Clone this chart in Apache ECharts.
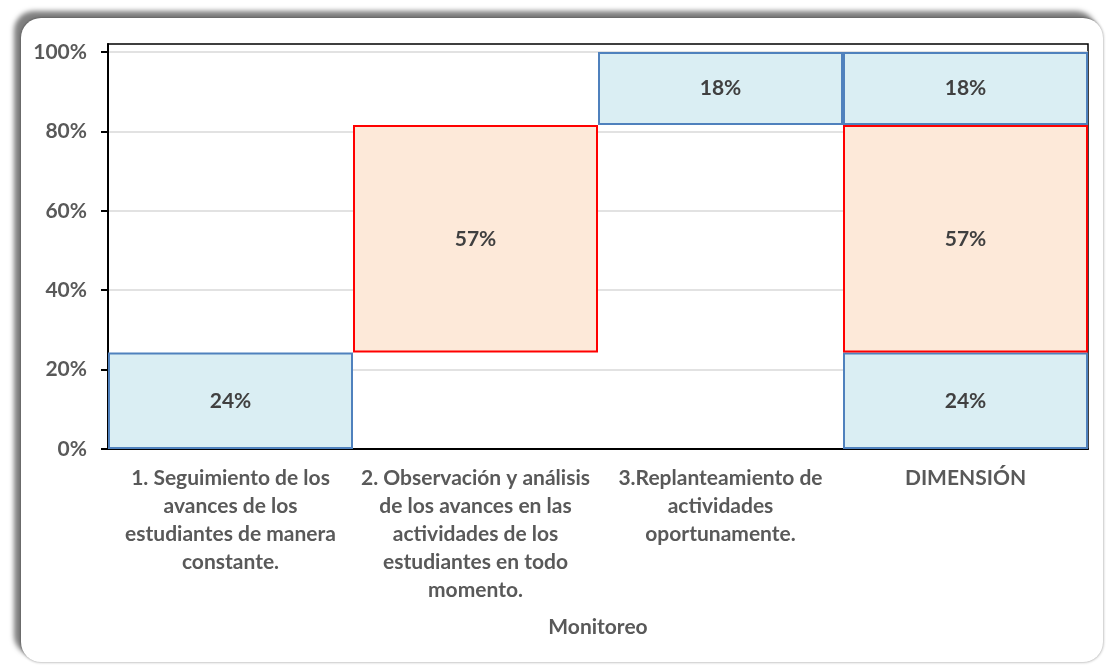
<!DOCTYPE html>
<html>
<head>
<meta charset="utf-8">
<script src="https://cdn.jsdelivr.net/npm/echarts@6/dist/echarts.min.js"></script>
<style>
  html, body { margin: 0; padding: 0; background: #ffffff; }
  #frame {
    position: absolute; left: 21px; top: 18px; width: 1082px; height: 644px;
    border-radius: 20px; background: #fff;
    box-shadow: -7px -7px 5px rgba(0,0,0,0.5), 0 0 3px rgba(0,0,0,0.45);
  }
  #chart { position: absolute; left: 0; top: 0; width: 1110px; height: 666px; }
</style>
</head>
<body>
<div id="frame"></div>
<div id="chart"></div>
<script>
const categories = [
  '1. Seguimiento de los\navances de los\nestudiantes de manera\nconstante.',
  '2. Observación y análisis\nde los avances en las\nactividades de los\nestudiantes en todo\nmomento.',
  '3.Replanteamiento de\nactividades\noportunamente.',
  'DIMENSIÓN'
];
const spacerValues = ['-', 24.3, 81.6, '-'];
const lowValues    = [24.3, '-', '-', 24.3];
const midValues    = ['-', 57.3, '-', 57.3];
const highValues   = ['-', '-', 18.4, 18.4];
const yTicks = [0, 20, 40, 60, 80, 100];
const xAxisName = 'Monitoreo';

const FONT = 'Lato';
const FS = 21;
const labelStyle = {
  show: true, position: 'inside', color: '#404040', fontFamily: FONT,
  fontWeight: 'bold', fontSize: FS,
  formatter: p => Math.round(p.value) + '%'
};
const chart = echarts.init(document.getElementById('chart'), null, { renderer: 'canvas' });
chart.setOption({
  backgroundColor: 'transparent',
  animation: false,
  grid: { left: 108, right: 22, top: 44, bottom: 217, show: true, borderColor: '#000', borderWidth: 1.5, backgroundColor: 'transparent' },
  xAxis: {
    type: 'category', data: categories,
    name: xAxisName, nameLocation: 'middle', nameGap: 168,
    nameTextStyle: { color: '#595959', fontFamily: FONT, fontWeight: 'bold', fontSize: FS },
    axisLine: { lineStyle: { color: '#000', width: 2 } },
    axisTick: { show: false },
    axisLabel: { color: '#595959', fontFamily: FONT, fontWeight: 'bold', fontSize: FS, lineHeight: 28, margin: 15, interval: 0 }
  },
  yAxis: {
    type: 'value', min: 0, max: 102, interval: 20,
    axisLine: { show: true, lineStyle: { color: '#000', width: 2 } },
    axisTick: { show: true, length: 7, lineStyle: { color: '#000', width: 2 }, customValues: yTicks },
    axisLabel: { color: '#595959', fontFamily: FONT, fontWeight: 'bold', fontSize: FS, margin: 21,
      customValues: yTicks, formatter: v => v + '%' },
    splitLine: { lineStyle: { color: '#d9d9d9', width: 1.5 } }
  },
  series: [
    { name: 'base', type: 'bar', stack: 's', data: spacerValues, barCategoryGap: '0%',
      itemStyle: { color: 'transparent', borderWidth: 0 }, label: { show: false }, silent: true },
    { name: 'bajo', type: 'bar', stack: 's', data: lowValues, barCategoryGap: '0%',
      itemStyle: { color: '#DAEEF3', borderColor: '#4F81BD', borderWidth: 2 }, label: labelStyle },
    { name: 'medio', type: 'bar', stack: 's', data: midValues, barCategoryGap: '0%',
      itemStyle: { color: '#FDE9D9', borderColor: '#FF0000', borderWidth: 2 }, label: labelStyle },
    { name: 'alto', type: 'bar', stack: 's', data: highValues, barCategoryGap: '0%',
      itemStyle: { color: '#DAEEF3', borderColor: '#4F81BD', borderWidth: 2 }, label: labelStyle }
  ]
});
</script>
</body>
</html>
